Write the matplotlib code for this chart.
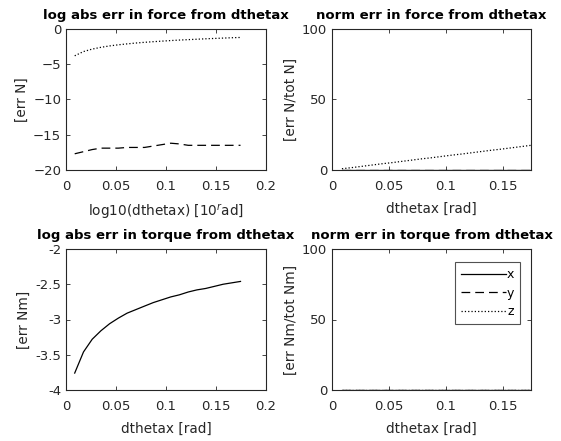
import matplotlib
matplotlib.use("Agg")
import matplotlib.pyplot as plt
import numpy as np

plt.rcParams['font.family'] = ['DejaVu Sans']

# dthetax values [rad] (0.5 deg to 10 deg)
dtheta = [0.0087, 0.0175, 0.0262, 0.0349, 0.0436, 0.0524, 0.0611, 0.0698, 0.0785, 0.0873,
          0.0960, 0.1047, 0.1134, 0.1222, 0.1309, 0.1396, 0.1484, 0.1571, 0.1658, 0.1745]

# log abs err in force
force_log_y = [-17.7, -17.4, -17.1, -16.9, -16.9, -16.9, -16.8, -16.8, -16.8, -16.6,
               -16.4, -16.2, -16.3, -16.5, -16.5, -16.5, -16.5, -16.5, -16.5, -16.5]
force_log_z = [-3.8, -3.2, -2.85, -2.6, -2.4, -2.24, -2.11, -1.99, -1.89, -1.8,
               -1.72, -1.64, -1.57, -1.51, -1.45, -1.39, -1.34, -1.29, -1.24, -1.2]

# norm err in force [%]
force_norm_x = [0.0] * 20
force_norm_y = [0.0] * 20
force_norm_z = [0.9, 1.7, 2.6, 3.5, 4.4, 5.2, 6.1, 7.0, 7.9, 8.7,
                9.6, 10.5, 11.3, 12.2, 13.1, 14.0, 14.8, 15.7, 16.6, 17.5]

# log abs err in torque
torque_log_x = [-3.76, -3.46, -3.28, -3.16, -3.06, -2.98, -2.91, -2.86, -2.81, -2.76,
                -2.72, -2.68, -2.65, -2.61, -2.58, -2.56, -2.53, -2.50, -2.48, -2.46]

# norm err in torque [%]
torque_norm_x = [0.0] * 20
torque_norm_y = [0.0] * 20
torque_norm_z = [0.0] * 20

titles = ['log abs err in force from dthetax', 'norm err in force from dthetax',
          'log abs err in torque from dthetax', 'norm err in torque from dthetax']
xlabels = [r'log10(dthetax) [10$^{r}$ad]', 'dthetax [rad]', 'dthetax [rad]', 'dthetax [rad]']
ylabels = ['[err N]', '[err N/tot N]', '[err Nm]', '[err Nm/tot Nm]']

W, H = 561, 441
fig = plt.figure(figsize=(W / 100, H / 100), dpi=100)

def mk(left, top, right, bottom):
    return fig.add_axes([left / W, (H - bottom) / H, (right - left) / W, (bottom - top) / H])

ax1 = mk(66, 29, 266, 170)
ax2 = mk(332, 29, 531, 170)
ax3 = mk(66, 249, 266, 390)
ax4 = mk(332, 249, 531, 390)

c = 'black'
lw = 0.9
dash = (7, 4)
ax1.plot(dtheta, force_log_y, '--', dashes=dash, color=c, lw=lw)
ax1.plot(dtheta, force_log_z, ':', color=c, lw=lw)
ax1.set_xlim(0, 0.2)
ax1.set_ylim(-20, 0)
ax1.set_xticks([0, 0.05, 0.1, 0.15, 0.2])
ax1.set_xticklabels(['0', '0.05', '0.1', '0.15', '0.2'])
ax1.set_yticks([-20, -15, -10, -5, 0])

ax2.plot(dtheta, force_norm_x, '-', color=c, lw=lw)
ax2.plot(dtheta, force_norm_y, '--', dashes=dash, color=c, lw=lw)
ax2.plot(dtheta, force_norm_z, ':', color=c, lw=lw)
ax2.set_xlim(0, 0.1745)
ax2.set_ylim(0, 100)
ax2.set_xticks([0, 0.05, 0.1, 0.15])
ax2.set_xticklabels(['0', '0.05', '0.1', '0.15'])
ax2.set_yticks([0, 50, 100])

ax3.plot(dtheta, torque_log_x, '-', color=c, lw=lw)
ax3.set_xlim(0, 0.2)
ax3.set_ylim(-4, -2)
ax3.set_xticks([0, 0.05, 0.1, 0.15, 0.2])
ax3.set_xticklabels(['0', '0.05', '0.1', '0.15', '0.2'])
ax3.set_yticks([-4, -3.5, -3, -2.5, -2])
ax3.set_yticklabels(['-4', '-3.5', '-3', '-2.5', '-2'])

ax4.plot(dtheta, torque_norm_x, '-', color=c, lw=lw, label='x')
ax4.plot(dtheta, torque_norm_y, '--', dashes=dash, color=c, lw=lw, label='y')
ax4.plot(dtheta, torque_norm_z, ':', color=c, lw=lw, label='z')
ax4.set_xlim(0, 0.1745)
ax4.set_ylim(0, 100)
ax4.set_xticks([0, 0.05, 0.1, 0.15])
ax4.set_xticklabels(['0', '0.05', '0.1', '0.15'])
ax4.set_yticks([0, 50, 100])
leg = ax4.legend(loc='upper right', fontsize=9, frameon=True, fancybox=False,
                 edgecolor='#262626', handlelength=3.6, handletextpad=0.1,
                 borderpad=0.45, labelspacing=0.45,
                 bbox_to_anchor=(0.945, 0.905), borderaxespad=0)
leg.get_frame().set_linewidth(0.8)

tc = '#262626'
for ax, t, xl, yl in zip([ax1, ax2, ax3, ax4], titles, xlabels, ylabels):
    ax.set_title(t, fontsize=9.5, fontweight='bold', pad=7.5, color='black')
    ax.set_xlabel(xl, fontsize=9.8, color=tc, labelpad=6)
    ax.set_ylabel(yl, fontsize=9.8, color=tc, labelpad=3)
    ax.tick_params(direction='in', top=True, right=True, length=3, width=0.6,
                   labelsize=9.5, colors=tc)
    ax.tick_params(axis='x', pad=7.5)
    ax.tick_params(axis='y', pad=3.5)
    for s in ax.spines.values():
        s.set_linewidth(0.8)
        s.set_color(tc)

fig.savefig('out.png', dpi=100)
